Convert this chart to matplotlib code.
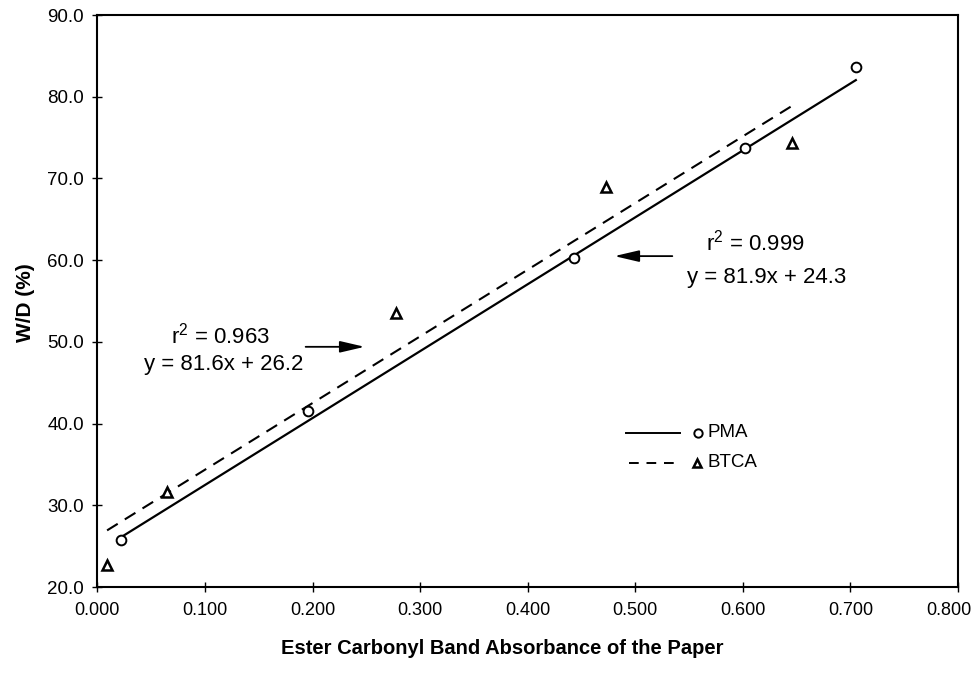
import numpy as np
import matplotlib
matplotlib.use("Agg")
import matplotlib.pyplot as plt
from matplotlib.transforms import ScaledTranslation

plt.rcParams['font.family'] = ['Liberation Sans', 'DejaVu Sans']
plt.rcParams['mathtext.fontset'] = 'custom'
plt.rcParams['mathtext.rm'] = 'Liberation Sans'

# measured W/D against ester carbonyl absorbance
pma_x = [0.022, 0.196, 0.443, 0.602, 0.705]
pma_y = [25.8, 41.6, 60.3, 73.7, 83.6]
btca_x = [0.009, 0.065, 0.278, 0.473, 0.646]
btca_y = [22.7, 31.6, 53.5, 69.0, 74.4]

# linear fits (slope, intercept, r2)
pma_fit = (81.9, 24.3, 0.999)
btca_fit = (81.6, 26.2, 0.963)

xticks = np.arange(0, 0.81, 0.1)
yticks = np.arange(20, 91, 10)

fig = plt.figure(figsize=(9.74, 6.85), dpi=100)
ax = fig.add_axes([0.100, 0.143, 0.8836, 0.835])

# fit lines over the range of each data set
xs = np.array([pma_x[0], pma_x[-1]])
ax.plot(xs, pma_fit[0] * xs + pma_fit[1], color='black', lw=1.6)
xs = np.array([btca_x[0], btca_x[-1]])
ax.plot(xs, btca_fit[0] * xs + btca_fit[1], color='black', lw=1.5,
        ls=(0, (6, 4)))

ax.plot(pma_x, pma_y, 'o', ms=7, mfc='white', mec='black', mew=1.4)
ax.plot(btca_x, btca_y, '^', ms=6.5, mfc='white', mec='black', mew=1.8)

ax.set_xlim(0, 0.8)
ax.set_ylim(20, 90)
ax.set_xticks(xticks)
ax.set_yticks(yticks)
ax.set_xticklabels([f"{v:.3f}" for v in xticks])
ax.set_yticklabels([f"{v:.1f}" for v in yticks])
ax.tick_params(direction='inout', length=7, width=1, colors='black')
ax.tick_params(axis='x', labelsize=13, pad=7)
ax.tick_params(axis='y', labelsize=13.5, pad=6)
for s in ax.spines.values():
    s.set_linewidth(1.5)

# keep the last x label inside the figure
last = ax.get_xticklabels()[-1]
last.set_transform(last.get_transform() + ScaledTranslation(-9 / 100, 0, fig.dpi_scale_trans))

ax.set_xlabel("Ester Carbonyl Band Absorbance of the Paper",
              fontsize=14.5, fontweight='bold')
ax.set_ylabel("W/D (%)", fontsize=15, fontweight='bold')
ax.xaxis.set_label_coords(0.47, -0.091)
ax.yaxis.set_label_coords(-0.073, 0.498)

# equations with arrows pointing to the lines
ax.text(0.612, 62.1, r"r$^2$ = %.3f" % pma_fit[2], fontsize=16, ha='center', va='center')
ax.text(0.622, 57.9, "y = %.1fx + %.1f" % pma_fit[:2], fontsize=16, ha='center', va='center')
ax.annotate("", xy=(0.478, 60.5), xytext=(0.537, 60.5),
            arrowprops=dict(arrowstyle='-|>,head_length=1.5,head_width=0.35',
                            color='black', lw=1.3))

ax.text(0.114, 50.8, r"r$^2$ = %.3f" % btca_fit[2], fontsize=16, ha='center', va='center')
ax.text(0.117, 47.2, "y = %.1fx + %.1f" % btca_fit[:2], fontsize=16, ha='center', va='center')
ax.annotate("", xy=(0.251, 49.4), xytext=(0.191, 49.4),
            arrowprops=dict(arrowstyle='-|>,head_length=1.5,head_width=0.35',
                            color='black', lw=1.3))

# hand-placed key
ax.plot([0.491, 0.542], [38.9, 38.9], color='black', lw=1.4)
ax.plot([0.558], [38.9], 'o', ms=6, mfc='white', mec='black', mew=1.4)
ax.text(0.567, 38.9, "PMA", fontsize=13.5, va='center')
ax.plot([0.494, 0.542], [35.2, 35.2], color='black', lw=1.4, ls=(0, (5, 4)))
ax.plot([0.557], [35.2], '^', ms=5.5, mfc='white', mec='black', mew=1.8)
ax.text(0.567, 35.2, "BTCA", fontsize=13.5, va='center')

fig.savefig("out.png", dpi=100)
